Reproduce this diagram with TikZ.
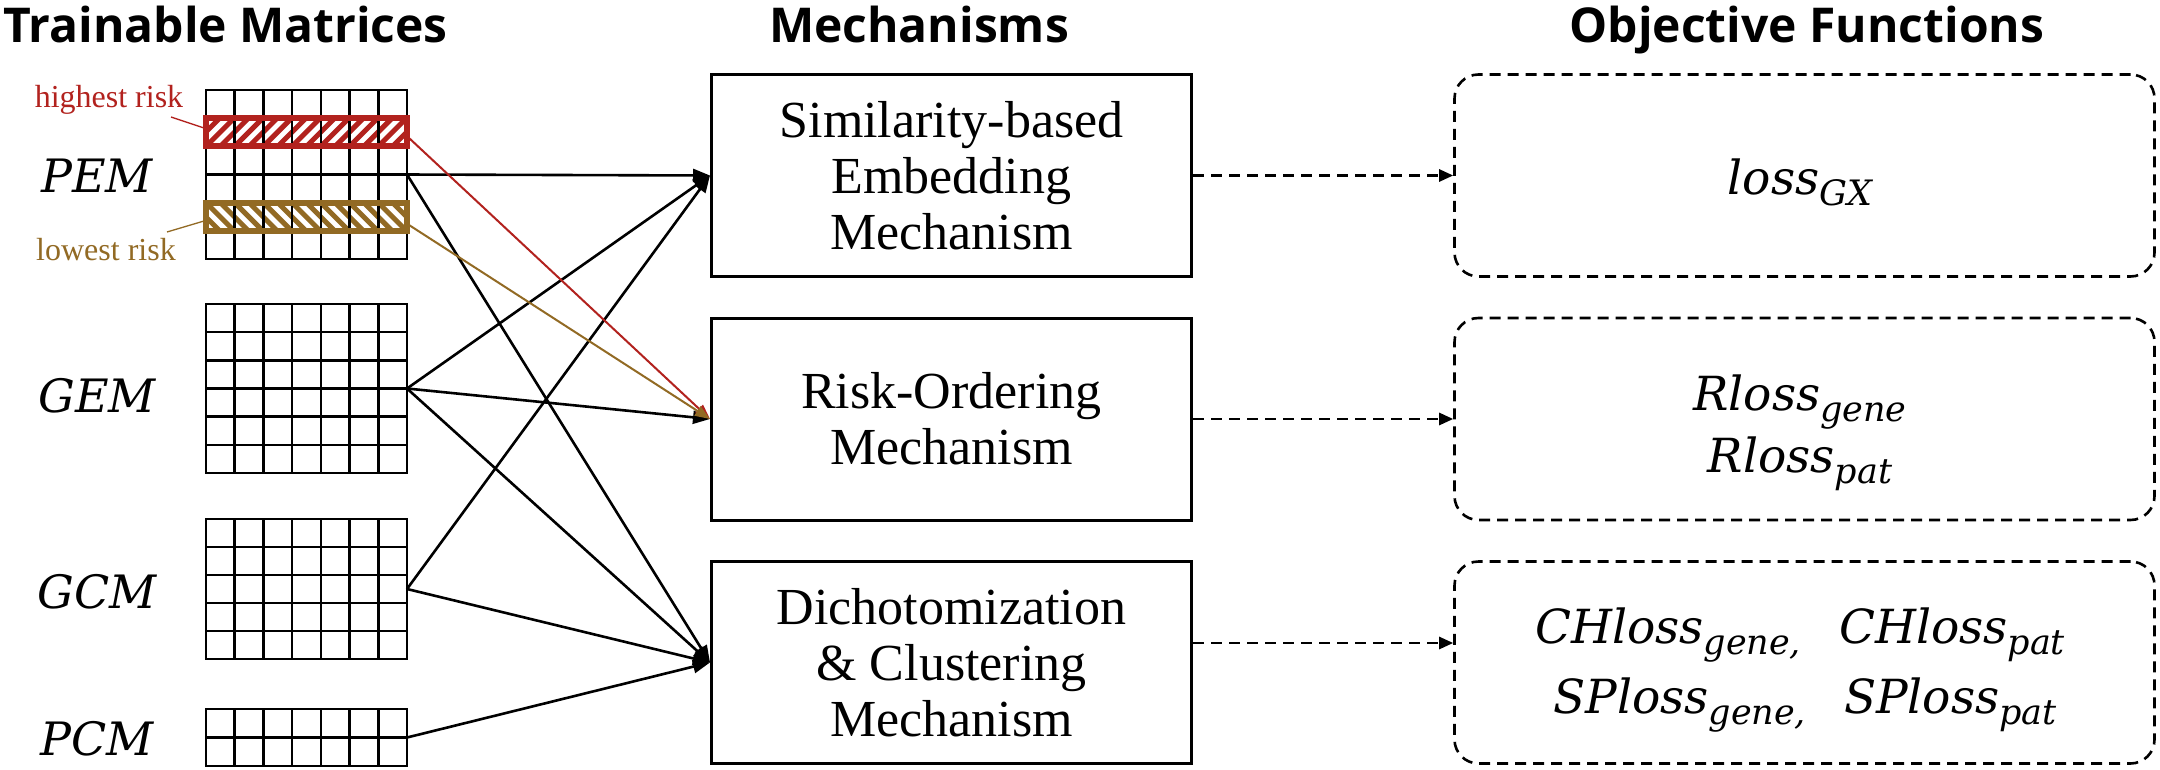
\documentclass[tikz,border=0pt]{standalone}
\usepackage{fontspec}
\setmainfont{Liberation Serif}
\newfontfamily\hdfont{Open Sans}
\newfontfamily\cmath{DejaVu Serif}
\usetikzlibrary{arrows.meta}
\definecolor{riskred}{RGB}{178,34,30}
\definecolor{riskbrown}{RGB}{146,106,36}
\newcommand\ml[2]{{\cmath\itshape\fontsize{47}{47}\selectfont #1\raisebox{-11pt}{\fontsize{35}{35}\selectfont #2}}}
\newcommand\matgrid[4]{%
  \pgfmathsetmacro\mgbot{#2+#3*#4}%
  \pgfmathtruncatemacro\mgr{#3-1}%
  \foreach \i in {1,...,6}{\draw[gridln] ({206+\i*201/7},#2) -- ({206+\i*201/7},\mgbot);}
  \foreach \j in {1,...,\mgr}{\draw[gridln] (206,{#2+\j*#4}) -- (407,{#2+\j*#4});}
  \node[matbox, minimum height={#3*#4}] (#1) at (306.5,{#2+#3*#4/2}) {};
}
\begin{document}
\begin{tikzpicture}[x=1pt,y=-1pt,
  gridln/.style={line width=2.6pt, black},
  matbox/.style={draw, line width=2.6pt, inner sep=0pt, outer sep=0pt, minimum width=201pt},
  mech/.style={draw, line width=3pt, minimum width=480pt, minimum height=202pt, align=center, inner sep=0pt,
    font=\fontsize{52}{56}\selectfont},
  obj/.style={draw, dash pattern=on 11pt off 7pt, line width=2.6pt, rounded corners=24pt,
    minimum width=700pt, minimum height=202pt, inner sep=0pt},
  objtxt/.style={anchor=base, inner sep=0pt},
  hd/.style={font=\hdfont\bfseries\fontsize{48}{56}\selectfont, anchor=base, inner sep=0pt},
  mlabel/.style={font=\cmath\itshape\fontsize{46}{56}\selectfont, inner sep=0pt, anchor=base},
  conn/.style={line width=2.6pt, -{Triangle[length=17pt,width=13pt]}},
  rconn/.style={line width=2pt, -{Triangle[length=15pt,width=11pt]}},
  darrow/.style={line width=2.6pt, dash pattern=on 11pt off 7pt, -{Triangle[length=14pt,width=12pt]}},
  riskband/.style={draw, line width=6pt, inner sep=0pt, minimum width=201pt, minimum height=28.1pt},
  risklab/.style={font=\fontsize{32}{36}\selectfont, inner sep=0pt},
]
\fill[white] (0,0) rectangle (2160,770);
\useasboundingbox (0,0) rectangle (2160,770);

% headers
\node[hd, anchor=base west] (h1) at (3,43) {Trainable Matrices};
\node[hd] (h2) at (919,43) {Mechanisms};
\node[hd] (h3) at (1807,43) {Objective Functions};

% hatching of the bands
\begin{scope}
  \clip (206,118.2) rectangle (407,146.3);
  \foreach \k in {-2,...,14}{\draw[riskred, line width=5pt] ({206+\k*14.357},146.3) -- ({206+\k*14.357+28.1},118.2);}
\end{scope}
\begin{scope}
  \clip (206,202.7) rectangle (407,230.8);
  \foreach \k in {-2,...,14}{\draw[riskbrown, line width=5pt] ({206+\k*14.357},202.7) -- ({206+\k*14.357+28.1},230.8);}
\end{scope}

% matrices
\matgrid{pem}{90}{6}{28.17}
\matgrid{gem}{304}{6}{28.17}
\matgrid{gcm}{519}{5}{28}
\matgrid{pcm}{709}{2}{28.5}

\node[riskband, draw=riskred] (hi) at (306.5,132.3) {};
\node[riskband, draw=riskbrown] (lo) at (306.5,216.8) {};

% matrix labels
\node[mlabel] (pemlab) at (97,193) {PEM};
\node[mlabel] (gemlab) at (97,412) {GEM};
\node[mlabel] (gcmlab) at (97,608) {GCM};
\node[mlabel] (pcmlab) at (97,755) {PCM};

% risk labels
\node[risklab, text=riskred] (hitxt) at (109,100) {highest risk};
\node[risklab, text=riskbrown] (lotxt) at (106,250) {lowest risk};
\coordinate (hic) at (171,117);
\coordinate (hie) at (204,128);
\coordinate (loc) at (167,232);
\coordinate (loe) at (204,221);
\draw[riskred, line width=1.3pt] (hic) -- (hie);
\draw[riskbrown, line width=1.3pt] (loc) -- (loe);

% mechanisms
\node[mech] (m1) at (951.5,175.5) {Similarity-based\\Embedding\\Mechanism};
\node[mech] (m2) at (951.5,419) {Risk-Ordering\\Mechanism};
\node[mech] (m3) at (951.5,662.5) {Dichotomization\\\& Clustering\\Mechanism};

% objectives
\node[obj] (o1) at (1804.5,175.5) {};
\node[obj] (o2) at (1804.5,419) {};
\node[obj] (o3) at (1804.5,662.5) {};
\node[objtxt] (t1) at (1800,195) {\ml{loss}{GX}};
\node[objtxt] (t2a) at (1800,410) {\ml{Rloss}{gene}};
\node[objtxt] (t2b) at (1800,472) {\ml{Rloss}{pat}};
\node[objtxt] (t3a) at (1800,643) {\ml{CHloss}{gene,}\hspace{38pt}\ml{CHloss}{pat}};
\node[objtxt] (t3b) at (1805,713) {\ml{SPloss}{gene,}\hspace{38pt}\ml{SPloss}{pat}};

% connectors
\draw[conn] (pem.east) -- (m1.west);
\draw[conn] (pem.east) -- (m3.west);
\draw[conn] (gem.east) -- (m1.west);
\draw[conn] (gem.east) -- (m2.west);
\draw[conn] (gem.east) -- (m3.west);
\draw[conn] (gcm.east) -- (m1.west);
\draw[conn] (gcm.east) -- (m3.west);
\draw[conn] (pcm.east) -- (m3.west);

\coordinate (his) at (409,138);
\coordinate (los) at (409,225);
\draw[rconn, riskred] (his) -- (m2.west);
\draw[rconn, riskbrown] (los) -- (m2.west);

% dashed arrows
\coordinate (d3) at (0,643);
\draw[darrow] (m1.east) -- (o1.west);
\draw[darrow] (m2.east) -- (o2.west);
\draw[darrow] (m3.east |- d3) -- (o3.west |- d3);
\end{tikzpicture}
\end{document}
